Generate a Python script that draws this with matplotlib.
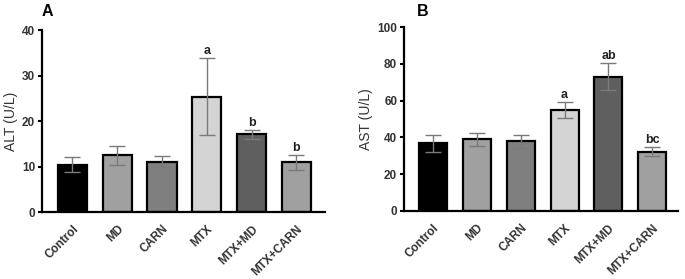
import matplotlib
matplotlib.use("Agg")
import matplotlib.pyplot as plt

categories = ["Control", "MD", "CARN", "MTX", "MTX+MD", "MTX+CARN"]
alt_mean = [10.4, 12.5, 11.1, 25.4, 17.1, 10.9]
alt_err = [1.7, 2.1, 1.2, 8.4, 1.0, 1.6]
alt_sig = ["", "", "", "a", "b", "b"]
ast_mean = [36.7, 38.9, 37.9, 54.9, 73.1, 32.3]
ast_err = [4.6, 3.5, 3.5, 4.3, 7.5, 2.4]
ast_sig = ["", "", "", "a", "ab", "bc"]
colors = ["#000000", "#a0a0a0", "#7f7f7f", "#d4d4d4", "#5f5f5f", "#a0a0a0"]

plt.rcParams['font.family'] = ['Liberation Sans', 'DejaVu Sans']

fig = plt.figure(figsize=(6.85, 2.79), dpi=100)
axA = fig.add_axes([0.0613, 0.240, 0.4132, 0.652])
axB = fig.add_axes([0.590, 0.244, 0.400, 0.659])

def panel(ax, means, errs, sig, ylim, yticks, ylabel, xlim, width, letter, lx, lpad):
    x = list(range(len(categories)))
    ax.bar(x, means, width=width, color=colors, edgecolor="black", linewidth=1.6, zorder=2)
    ax.errorbar(x, means, yerr=errs, fmt="none", ecolor="#7a7a7a", elinewidth=1.0,
                capsize=5.5, capthick=1.0, zorder=3)
    for xi, m, e, s in zip(x, means, errs, sig):
        if s:
            ax.text(xi, m + e + lpad, s, ha="center", va="bottom", fontsize=9,
                    fontweight="bold", color="#222222")
    ax.set_ylim(*ylim)
    ax.set_yticks(yticks)
    ax.set_xlim(*xlim)
    ax.set_xticks(x)
    ax.set_xticklabels(categories, rotation=45, ha="right", rotation_mode="anchor",
                       fontsize=8.5, fontweight="bold", color="#333333")
    for lab in ax.get_yticklabels():
        lab.set_fontsize(8.5)
        lab.set_fontweight("bold")
        lab.set_color("#333333")
    ax.tick_params(axis="x", length=0, pad=8)
    ax.tick_params(axis="y", length=3, width=1.5, pad=2)
    ax.set_ylabel(ylabel, fontsize=10, color="#333333", labelpad=3)
    for sp in ["top", "right"]:
        ax.spines[sp].set_visible(False)
    for sp in ["left", "bottom"]:
        ax.spines[sp].set_linewidth(1.6)
    fig.text(lx, 0.985, letter, fontsize=11.5, fontweight="bold", va="top", ha="left")

panel(axA, alt_mean, alt_err, alt_sig, (0, 40), [0, 10, 20, 30, 40], "ALT (U/L)",
      (-0.68, 5.64), 0.65, "A", 0.060, 0.2)
panel(axB, ast_mean, ast_err, ast_sig, (0, 100), [0, 20, 40, 60, 80, 100], "AST (U/L)",
      (-0.66, 5.59), 0.64, "B", 0.608, 0.5)

fig.savefig("out.png", dpi=100)
